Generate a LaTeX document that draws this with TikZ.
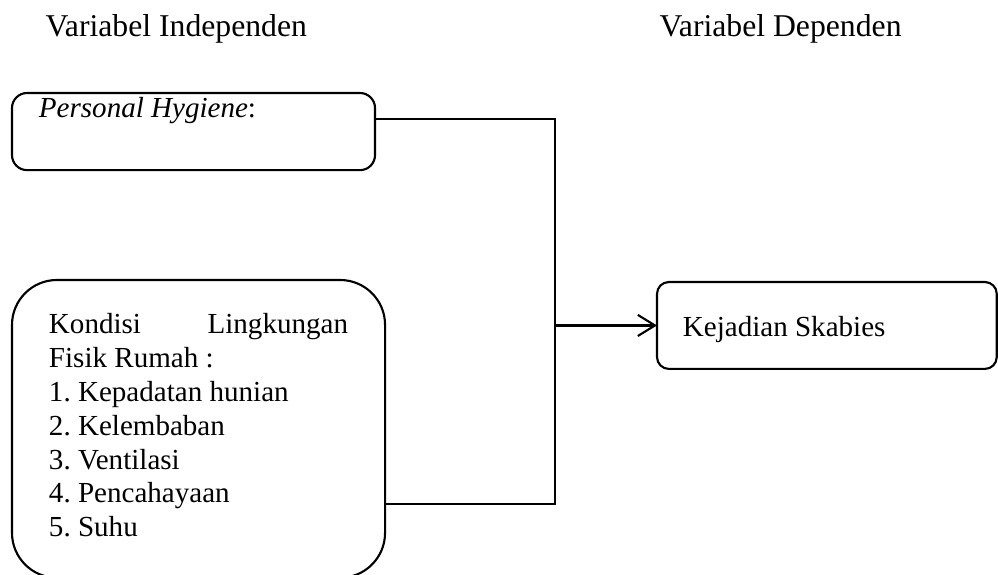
\documentclass[tikz,border=0pt]{standalone}
\usepackage{fontspec}
\setmainfont{Liberation Serif}
\usetikzlibrary{arrows.meta,positioning,calc}
\frenchspacing

\begin{document}
\begin{tikzpicture}[x=0.3785pt,y=-0.3785pt,>={Straight Barb[length=6.5pt,width=8pt]},
  font=\fontsize{12pt}{12.8pt}\selectfont,
  var/.style={draw,line width=0.8pt,anchor=north west,align=flush left,inner ysep=0pt,outer sep=0pt,
    font=\fontsize{11pt}{12.8pt}\selectfont},
  link/.style={line width=0.8pt}]
  \useasboundingbox (0,0) rectangle (998,575);
  \node[anchor=base west,inner sep=0pt] (indep) at (45,37) {Variabel Independen};
  \node[anchor=base west,inner sep=0pt] (dep) at (659,37) {Variabel Dependen};
  % kotak variabel
  \node[var,rounded corners=5.7pt,inner xsep=10.2pt,text width=117pt,text height=9.1pt,text depth=20.1pt] (hyg) at (12,93) {\textit{Personal Hygiene}:};
  \node[var,rounded corners=17pt,inner xsep=14pt,text width=113.2pt,text height=20.4pt,text depth=92.3pt] (kond) at (12,280)
    {\makebox[\hsize][s]{Kondisi Lingkungan}\\ Fisik Rumah :\\ 1. Kepadatan hunian\\ 2. Kelembaban\\ 3. Ventilasi\\ 4. Pencahayaan\\ 5. Suhu};
  \node[var,rounded corners=4.5pt,inner xsep=9.8pt,text width=109pt,text height=20.8pt,text depth=12.1pt] (sk) at (657,282) {Kejadian Skabies};
  % garis penghubung
  \coordinate (j1) at (555,119);
  \coordinate (j2) at (555,504);
  \draw[link] (hyg.east |- j1) -- (j1) -- (j2) -- (kond.east |- j2);
  \draw[link,->] (j1 |- sk.west) -- (sk.west);
\end{tikzpicture}
\end{document}
